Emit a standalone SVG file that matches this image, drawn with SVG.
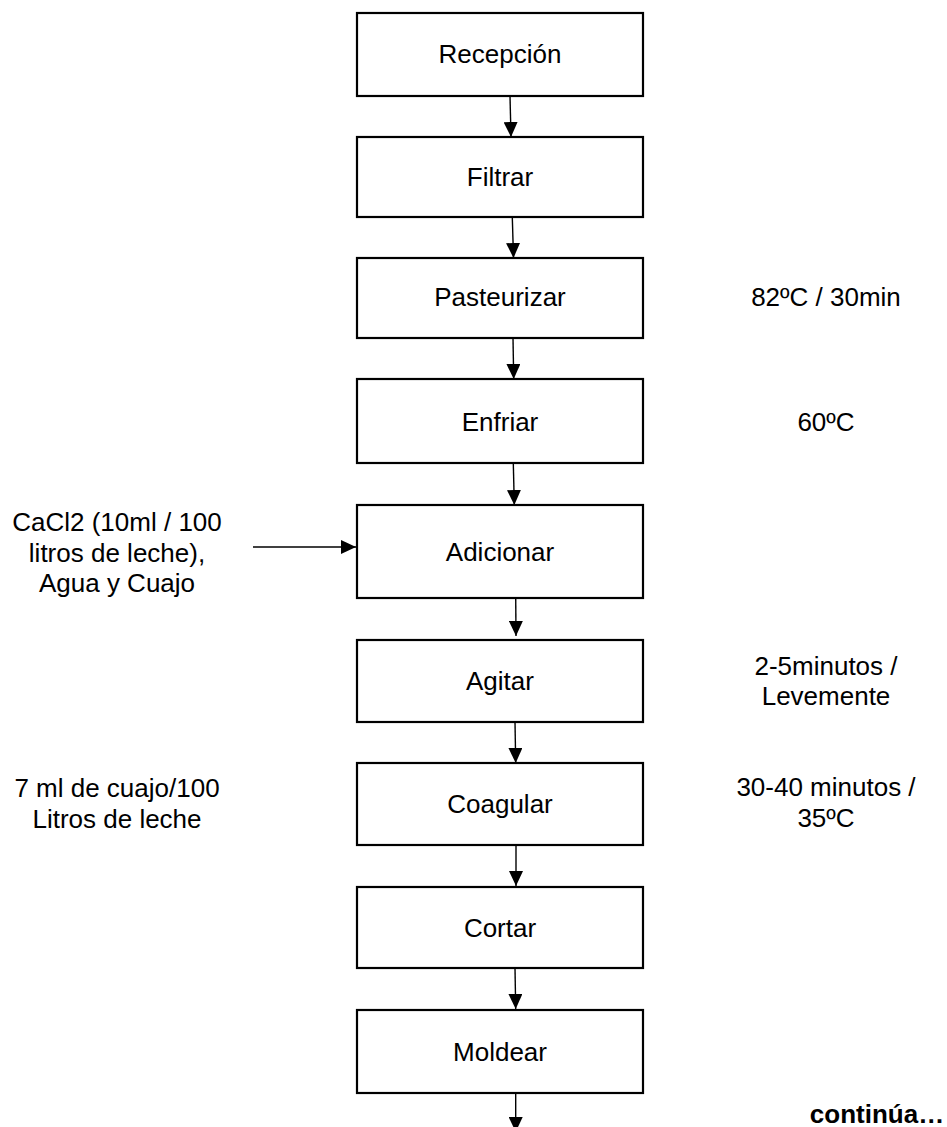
<svg xmlns="http://www.w3.org/2000/svg" width="947" height="1127" viewBox="0 0 947 1127">
<defs>
<style>
.box{fill:#fff;stroke:#000;stroke-width:2.2}
.t{font-family:"Liberation Sans",Arial,sans-serif;font-size:26px;fill:#000;text-anchor:middle}
.b{font-weight:bold}
.c{stroke:#000;stroke-width:1.4;fill:none;marker-end:url(#ah)}
</style>
<marker id="ah" markerUnits="userSpaceOnUse" markerWidth="15" markerHeight="14" refX="15" refY="7" orient="auto">
<path d="M0,0 L15,7 L0,14 z" fill="#000"/>
</marker>
</defs>
<rect width="947" height="1127" fill="#fff"/>
<g id="connectors">
<line class="c" x1="510" y1="96" x2="511" y2="137"/>
<line class="c" x1="512.3" y1="217" x2="513.5" y2="258"/>
<line class="c" x1="513" y1="338" x2="513.7" y2="379"/>
<line class="c" x1="513.3" y1="463" x2="514.3" y2="505"/>
<line class="c" x1="515.7" y1="596" x2="516" y2="636"/>
<line class="c" x1="515" y1="722" x2="515.7" y2="763"/>
<line class="c" x1="516" y1="845" x2="516" y2="886"/>
<line class="c" x1="515" y1="968" x2="515.7" y2="1009"/>
<line class="c" x1="515.7" y1="1093" x2="515.7" y2="1132"/>
<line class="c" x1="253" y1="547" x2="356" y2="547"/>
</g>
<g id="n-recepcion"><rect class="box" x="357" y="13" width="286" height="83"/><text class="t" x="500" y="63">Recepción</text></g>
<g id="n-filtrar"><rect class="box" x="357" y="137" width="286" height="80"/><text class="t" x="500" y="186">Filtrar</text></g>
<g id="n-pasteurizar"><rect class="box" x="357" y="258" width="286" height="80"/><text class="t" x="500" y="306">Pasteurizar</text></g>
<g id="n-enfriar"><rect class="box" x="357" y="379" width="286" height="84"/><text class="t" x="500" y="431">Enfriar</text></g>
<g id="n-adicionar"><rect class="box" x="357" y="505" width="286" height="93"/><text class="t" x="500" y="561">Adicionar</text></g>
<g id="n-agitar"><rect class="box" x="357" y="640" width="286" height="82"/><text class="t" x="500" y="690">Agitar</text></g>
<g id="n-coagular"><rect class="box" x="357" y="763" width="286" height="82"/><text class="t" x="500" y="813">Coagular</text></g>
<g id="n-cortar"><rect class="box" x="357" y="887" width="286" height="81"/><text class="t" x="500" y="937">Cortar</text></g>
<g id="n-moldear"><rect class="box" x="357" y="1010" width="286" height="83"/><text class="t" x="500" y="1061">Moldear</text></g>
<g id="labels">
<text class="t" x="826" y="306">82ºC / 30min</text>
<text class="t" x="826" y="431">60ºC</text>
<text class="t" x="117" y="531">CaCl2 (10ml / 100</text>
<text class="t" x="117" y="562">litros de leche),</text>
<text class="t" x="117" y="592">Agua y Cuajo</text>
<text class="t" x="826" y="675">2-5minutos /</text>
<text class="t" x="826" y="705">Levemente</text>
<text class="t" x="117" y="797">7 ml de cuajo/100</text>
<text class="t" x="117" y="828">Litros de leche</text>
<text class="t" x="826" y="796">30-40 minutos /</text>
<text class="t" x="826" y="827">35ºC</text>
<text class="t b" x="877" y="1123">continúa…</text>
</g>
</svg>
